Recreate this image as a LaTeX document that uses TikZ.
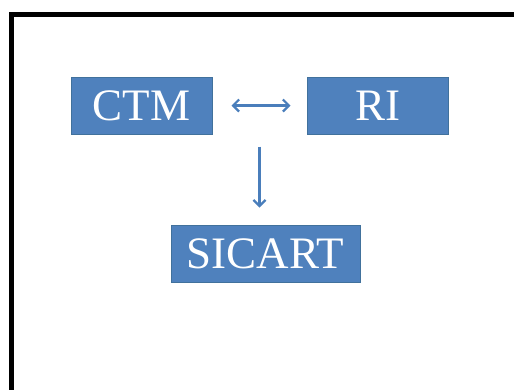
\documentclass[tikz,border=0pt]{standalone}
\usepackage{fontspec}
\setmainfont{Liberation Serif}
\usetikzlibrary{arrows.meta,positioning,calc}

\definecolor{boxblue}{HTML}{4F81BD}
\definecolor{boxline}{HTML}{41719C}
\definecolor{arrowblue}{HTML}{4A7EBB}

\tikzset{
  unitbox/.style={draw=boxline, fill=boxblue, line width=1pt, text=white,
    minimum height=57pt, inner sep=0pt,
    font=\fontsize{45}{45}\selectfont},
  link/.style={draw=arrowblue, line width=2.2pt}
}

\begin{document}
\begin{tikzpicture}[x=1pt, y=-1pt, >={Straight Barb[length=6pt,width=12pt,line width=2.2pt]}]
\useasboundingbox (0,0) rectangle (514,389);

% Frame (only top and left edge visible)
\draw[line width=5pt] (11,395) -- (11,14.5) -- (520,14.5);

% Boxes
\node[unitbox, minimum width=141pt] (ctm) at (141.5,105.5) {CTM};
\node[unitbox, minimum width=141pt] (ri) at (377.5,105.5) {RI};
\node[unitbox, minimum width=189pt] (sicart) at (265.5,253.5) {SICART};

% Connectors
\draw[link, <->, shorten <=19pt, shorten >=16pt] (ctm) -- (ri);
\coordinate (mid) at ($(ctm.south east)!0.5!(ri.south west)$);
\draw[link, ->, shorten <=12pt, shorten >=17pt] (mid) -- (mid |- sicart.north);

\end{tikzpicture}
\end{document}
